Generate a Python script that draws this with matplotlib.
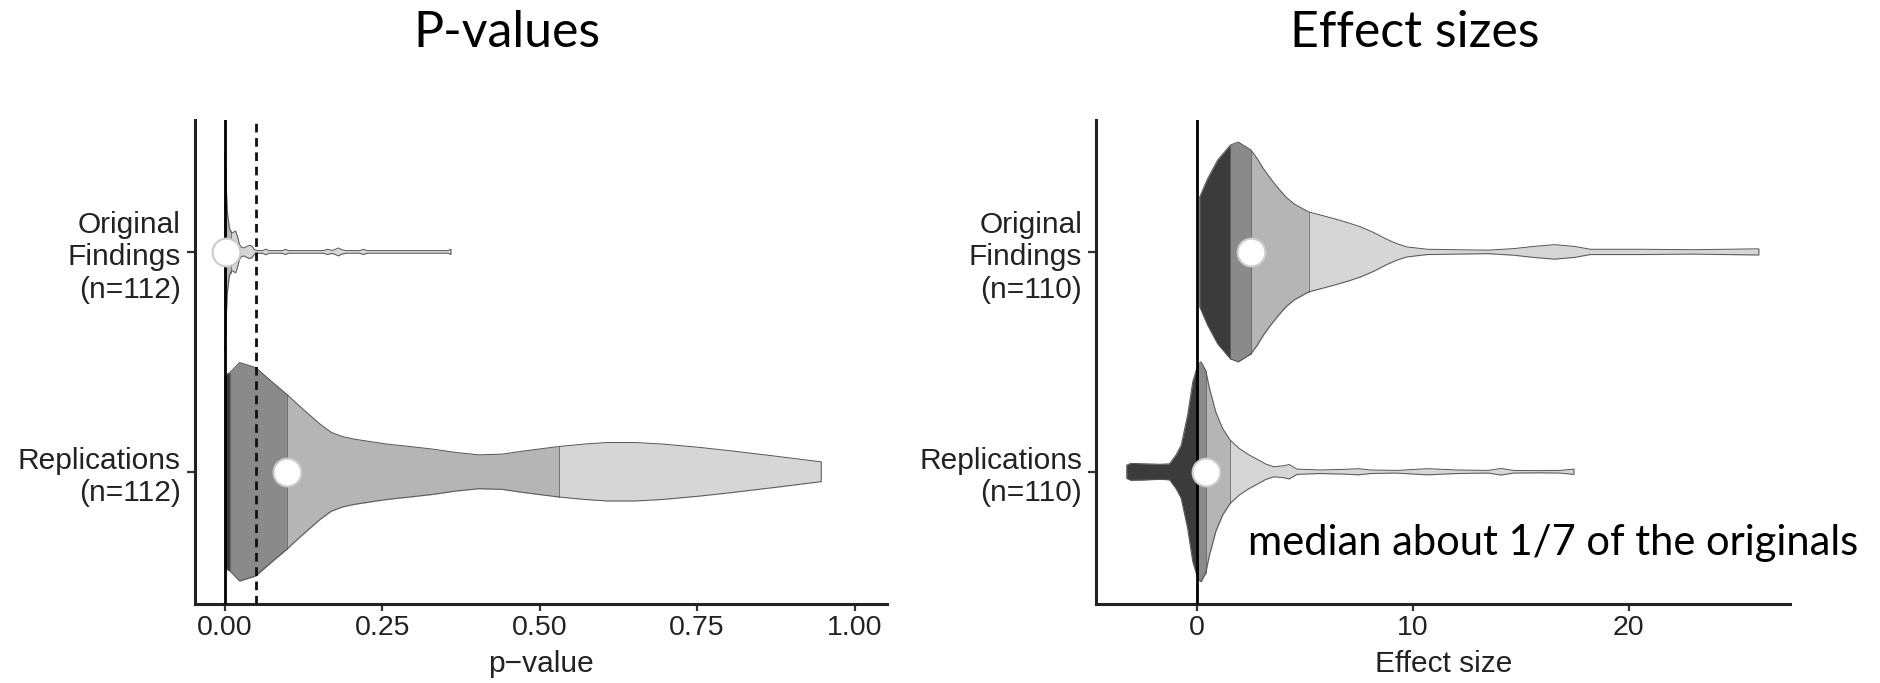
import matplotlib
matplotlib.use("Agg")
import matplotlib.pyplot as plt
import numpy as np

# ---- data (violin profiles: position, half-width) ----
categories_p = ["Replications\n(n=112)", "Original\nFindings\n(n=112)"]
categories_es = ["Replications\n(n=110)", "Original\nFindings\n(n=110)"]

# p-values, original findings
pv_orig_x = [0.0, 0.0002, 0.001, 0.002, 0.004, 0.007, 0.009, 0.011, 0.014, 0.017, 0.020,
             0.023, 0.026, 0.030, 0.034, 0.039, 0.043, 0.047, 0.052, 0.060, 0.065,
             0.070, 0.091, 0.096, 0.101, 0.156, 0.163, 0.170, 0.174, 0.180, 0.186,
             0.192, 0.214, 0.220, 0.226, 0.354, 0.359]
pv_orig_w = [0.45, 0.44, 0.38, 0.30, 0.18, 0.11, 0.095, 0.085, 0.09, 0.095, 0.07,
             0.035, 0.022, 0.018, 0.024, 0.030, 0.026, 0.010, 0.006, 0.006, 0.013,
             0.006, 0.006, 0.012, 0.006, 0.006, 0.012, 0.007, 0.010, 0.018, 0.010,
             0.006, 0.006, 0.012, 0.006, 0.006, 0.012]
pv_orig_q = [0.0002, 0.001, 0.009]

# p-values, replications
pv_rep_x = [0.0, 0.0075, 0.0233, 0.0488, 0.0744, 0.098, 0.115, 0.133, 0.151, 0.169,
            0.188, 0.206, 0.257, 0.293, 0.330, 0.366, 0.403, 0.440, 0.476, 0.531,
            0.571, 0.607, 0.651, 0.695, 0.753, 0.804, 0.877, 0.947]
pv_rep_w = [0.44, 0.45, 0.497, 0.474, 0.41, 0.353, 0.308, 0.262, 0.217, 0.179,
            0.159, 0.148, 0.126, 0.115, 0.103, 0.088, 0.077, 0.080, 0.095, 0.115,
            0.126, 0.133, 0.133, 0.126, 0.111, 0.095, 0.07, 0.045]
pv_rep_q = [0.0075, 0.098, 0.531]

# effect sizes, original findings
es_orig_x = [0.14, 0.50, 0.97, 1.56, 1.92, 2.51, 2.80, 3.10, 3.45, 3.81, 4.15, 4.52,
             5.18, 5.80, 6.41, 7.00, 7.59, 8.20, 8.77, 9.25, 9.72, 10.67, 12.0, 13.5,
             14.68, 15.6, 16.57, 17.5, 18.23, 20.6, 22.96, 26.03]
es_orig_w = [0.25, 0.332, 0.418, 0.486, 0.50, 0.464, 0.425, 0.377, 0.330, 0.286,
             0.248, 0.218, 0.182, 0.166, 0.15, 0.133, 0.114, 0.088, 0.059, 0.038,
             0.023, 0.012, 0.010, 0.008, 0.015, 0.025, 0.033, 0.025, 0.012, 0.012,
             0.010, 0.014]
es_orig_q = [1.56, 2.51, 5.18]

# effect sizes, replications
es_rep_x = [-3.24, -3.05, -2.34, -1.70, -1.26, -0.96, -0.72, -0.42, -0.18, 0.0, 0.08,
            0.20, 0.42, 0.59, 0.89, 1.20, 1.55, 1.97, 2.40, 2.87, 3.20, 3.57, 4.04,
            4.28, 4.64, 5.70, 6.88, 7.48, 8.06, 9.25, 10.67, 12.09, 13.50, 14.09,
            14.68, 15.87, 16.81, 17.47]
es_rep_w = [0.030, 0.038, 0.036, 0.034, 0.036, 0.076, 0.12, 0.258, 0.41, 0.47, 0.49,
            0.50, 0.46, 0.38, 0.27, 0.197, 0.144, 0.106, 0.078, 0.053, 0.035, 0.023,
            0.027, 0.033, 0.012, 0.008, 0.011, 0.014, 0.008, 0.006, 0.014, 0.008,
            0.006, 0.015, 0.006, 0.005, 0.006, 0.012]
es_rep_q = [0.08, 0.42, 1.55]

p_ticks = [0.0, 0.25, 0.5, 0.75, 1.0]
p_ticklabels = ["0.00", "0.25", "0.50", "0.75", "1.00"]
es_ticks = [0, 10, 20]
sig_level = 0.05

band_colors = ["#3b3b3b", "#8a8a8a", "#b5b5b5", "#d6d6d6"]
outline = "#555555"
arial = ["Liberation Sans", "DejaVu Sans"]
calib = ["Lato", "DejaVu Sans"]


def draw_violin(ax, xs, ws, quarts, ypos):
    xs = np.asarray(xs)
    ws = np.asarray(ws)
    edges = [xs[0]] + list(quarts) + [xs[-1]]
    for lo, hi, col in zip(edges[:-1], edges[1:], band_colors):
        m = (xs >= lo) & (xs <= hi)
        if m.sum() < 2:
            continue
        ax.fill_between(xs[m], ypos - ws[m], ypos + ws[m], facecolor=col,
                        edgecolor=col, lw=0.3, zorder=2)
    ax.fill_between(xs, ypos - ws, ypos + ws, facecolor="none",
                    edgecolor=outline, lw=0.7, zorder=3)
    for q in quarts:
        w = ws[np.argmin(np.abs(xs - q))]
        ax.plot([q, q], [ypos - w, ypos + w], color=outline, lw=0.5, zorder=3)
    ax.plot([quarts[1]], [ypos], marker="o", ms=20, mfc="white",
            mec="#cccccc", mew=1.5, ls="none", zorder=6)


def style_axes(ax, xlim, ticks, ticklabels, xlabel, ylabels):
    ax.set_xlim(*xlim)
    ax.set_ylim(0.4, 2.6)
    for s in ["top", "right"]:
        ax.spines[s].set_visible(False)
    for s in ["left", "bottom"]:
        ax.spines[s].set_linewidth(2.2)
        ax.spines[s].set_color("#222222")
    ax.set_xticks(ticks)
    ax.set_xticklabels(ticklabels, family=arial, fontsize=20.5, color="#222222")
    ax.set_yticks([1, 2])
    ax.set_yticklabels(ylabels, family=arial, fontsize=21.5, color="#222222")
    ax.tick_params(axis="x", length=5, width=1.6, color="#333333", pad=3.5)
    ax.tick_params(axis="y", length=5.5, width=1.6, color="#333333", pad=4.5)
    ax.set_xlabel(xlabel, family=arial, fontsize=21.5, color="#222222", labelpad=6)


fig = plt.figure(figsize=(18.81, 6.83), dpi=100)
ax1 = fig.add_axes([0.1035, 0.1162, 0.3679, 0.7081])
ax2 = fig.add_axes([0.5828, 0.1162, 0.3689, 0.7081])

# P-values panel
draw_violin(ax1, pv_rep_x, pv_rep_w, pv_rep_q, 1)
draw_violin(ax1, pv_orig_x, pv_orig_w, pv_orig_q, 2)
ax1.axvline(0, color="black", lw=2, zorder=4)
ax1.axvline(sig_level, color="#111111", lw=2, ls=(0, (3.1, 2.05)), zorder=4)
style_axes(ax1, (-0.048, 1.051), p_ticks, p_ticklabels, "p\u2212value", categories_p)

# Effect sizes panel
draw_violin(ax2, es_rep_x, es_rep_w, es_rep_q, 1)
draw_violin(ax2, es_orig_x, es_orig_w, es_orig_q, 2)
ax2.axvline(0, color="black", lw=2, zorder=4)
style_axes(ax2, (-4.65, 27.48), es_ticks, [str(t) for t in es_ticks], "Effect size",
           categories_es)
ax2.text(2.39, 0.62, "median about 1/7 of the originals", family=calib, fontsize=30,
         ha="left", va="baseline", color="black")

fig.text(506.5 / 1881, 1 - 47 / 683, "P-values", family=calib, fontsize=36,
         ha="center", va="baseline")
fig.text(1415 / 1881, 1 - 47 / 683, "Effect sizes", family=calib, fontsize=36,
         ha="center", va="baseline")

fig.savefig("out.png", dpi=100)
